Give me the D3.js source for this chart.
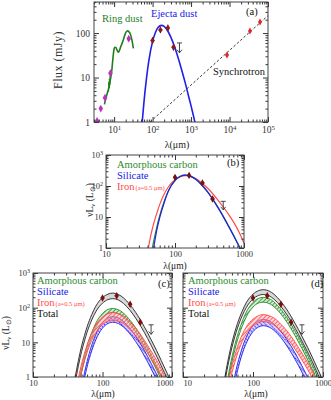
<!DOCTYPE html>
<html><head><meta charset="utf-8">
<script src="https://cdn.jsdelivr.net/npm/d3@7"></script>
<style>body{margin:0;background:#fff} text{font-family:"Liberation Serif","Times New Roman",serif}</style>
</head><body>
<script>
// ================= DATA =================
// Panel (a): ring dust spectrum (mJy)
const ringLam  = [5.6,6.2,7.0,7.5,8.0,8.6,9.2,9.8,10.4,11.2,12.0,12.8,13.6,14.8,16,17.3,18.8,20.4,22.6,24.5,26,28,30,31.7];
const ringFlux = [2.5,3.6,5.2,6.5,9,13,24,40,48,47,41,37,40,49,58,70,88,105,112,106,98,80,60,45];
const ringErrLam = [7.2,7.5,7.8];
const ringErrLo  = [4.8,5.8,6.8];
const ringErrHi  = [8,9.5,11];
const ringPtLam  = [3.6,4.5,5.8,8.0,24];
const ringPtFlux = [1.05,2.0,3.5,12.5,75];
// ejecta dust model (mJy)
const ejectaLam  = [50,55,60,70,80,100,120,140,170,200,250,300,400,500,600,700,850,1000,1200,1500];
const ejectaFlux = [0.44,1.26,2.95,10.2,24,65,106,135,149,141,110,80,41,22,12.7,7.8,4.0,2.3,1.19,0.53];
const firLam  = [100,160,250,350];
const firFlux = [68,118,130,48];
const firLimit = {lam:500, top:60, tip:36};
// synchrotron
const synchLam  = [86,100000];
const synchFlux = [1,247];
const radioLam  = [8600,34000,62000];
const radioFlux = [32,111,177];

// Panels (b)-(d): nu L_nu (Lsun)
const modelLam = [35,40,45,50,55,60,70,80,100,120,140,170,200,250,300,400,500,600,700,850,1000];
const bSilicate = [0.012,0.11,0.3,1.3,4.2,9.5,30,69,151,206,224,204,164,102,62,23.8,10.3,4.9,2.57,1.10,0.54];
const bCarbon   = [0.012,0.1,0.6,2.0,5.2,11,33,68,150,205,225,205,165,104,63,24.5,10.7,5.1,2.7,1.15,0.58];
const bIron     = [0.2,0.76,2.8,7.1,14,25,56,93,158,200,214,200,174,120,83,40,21,12,7.1,3.2,1.41];

const cTotalHi  = [0.17,0.87,3.0,7.8,15.8,28,63,110,195,246,263,240,192,120,73,28,12,5.8,3.0,1.29,0.63];
const cTotalLo  = [0.115,0.6,2.1,5.4,11,19.5,44,76,135,171,182,166,133,83,50,19.3,8.3,4.0,2.1,0.89,0.44];
const cCarbonHi = [0.023,0.15,0.62,1.78,4.0,7.6,19,35.5,68,89,95,87,70,43,26.4,10.1,4.4,2.1,1.10,0.47,0.23];
const cCarbonLo = [0.017,0.114,0.47,1.35,3.0,5.8,14.4,27,52,68,72,66,53,33,20,7.7,3.3,1.6,0.83,0.36,0.17];
const cIronHi   = [0.068,0.26,0.95,2.4,4.8,8.5,19,31.6,53.7,67.6,72.4,67.1,57.5,38.5,25.7,11.5,5.6,3.05,1.70,0.71,0.29];
const cIronLo   = [0.041,0.157,0.57,1.45,2.9,5.1,11.5,19,32.4,40.8,43.7,40.5,34.7,23.2,15.5,6.9,3.4,1.84,1.03,0.43,0.175];
const cSilHi    = [0.003,0.027,0.15,0.5,1.32,2.8,8.3,17,37.2,50.6,55,50.2,40.2,25,15.2,5.9,2.5,1.2,0.63,0.27,0.13];
const cSilLo    = [0.0021,0.019,0.1,0.35,0.91,1.95,5.7,11.7,25.7,35,38,34.7,27.8,17.3,10.5,4.05,1.74,0.83,0.43,0.19,0.09];

const dTotalHi  = [0.21,1.1,3.8,9.8,19.9,35,79,138,245,310,331,302,242,151,92,35,15.1,7.3,3.8,1.62,0.79];
const dTotalLo  = [0.15,0.79,2.8,7.1,14.5,25.7,58,100,178,225,240,219,175,109,66,25.4,10.9,5.3,2.8,1.17,0.58];
const dCarbonHi = [0.048,0.31,1.3,3.7,8.4,15.9,39.7,74,142,186,198,182,146,90,55,21,9.2,4.4,2.3,0.98,0.48];
const dCarbonLo = [0.034,0.23,0.94,2.7,6.0,11.6,28.7,54,104,136,144,132,106,66,40,15.4,6.6,3.2,1.66,0.72,0.34];
const dIronHi   = [0.059,0.23,0.83,2.1,4.2,7.4,16.5,27.5,46.8,58.9,63.1,58.4,50.1,33.5,22.4,10,4.9,2.66,1.48,0.62,0.25];
const dIronLo   = [0.037,0.143,0.52,1.32,2.64,4.67,10.4,17.4,29.5,37.1,39.8,36.9,31.6,21.2,14.1,6.3,3.1,1.68,0.93,0.39,0.16];
const dSilHi    = [0.0025,0.023,0.12,0.42,1.1,2.35,6.9,14.1,30.9,42.1,45.7,41.7,33.4,20.8,12.6,4.9,2.1,1.0,0.52,0.23,0.11];
const dSilLo    = [0.0017,0.015,0.08,0.28,0.72,1.5,4.6,9.3,20.4,27.7,30.2,27.5,22.1,13.8,8.3,3.2,1.38,0.66,0.35,0.15,0.072];

const obsLam = [100,160,250,350];
const obsLv  = [190,220,125,38];
const obsLimit = {lam:500, top:32, tip:17};

// tick labels
const aXLabels = {10:"10^1",100:"10^2",1000:"10^3",10000:"10^4",100000:"10^5"};
const aYLabels = {1:"1",10:"10",100:"100"};
const lvYLabels = {1:"1",10:"10",100:"10^2",1000:"10^3"};
const lamLabels = {10:"10",100:"100",1000:"1000"};

// ================= DRAW =================
const GREEN="#2e8b2e", BLUE="#2020e8", RED="#ff4a4a", RING="#1f7f1f";
const svg = d3.select("body").append("svg").attr("width",331).attr("height",400);
const defs = svg.append("defs");
function hatch(id,color,bg,angle,dash){
  const p=defs.append("pattern").attr("id",id).attr("patternUnits","userSpaceOnUse")
    .attr("width",3).attr("height",3).attr("patternTransform",`rotate(${angle})`);
  p.append("rect").attr("width",3).attr("height",3).attr("fill",bg);
  p.append("line").attr("x1",0.5).attr("y1",0).attr("x2",0.5).attr("y2",3)
    .attr("stroke",color).attr("stroke-width",0.9).attr("stroke-dasharray",dash||null);
}
hatch("hGreen","#3a9a3a","rgba(190,230,190,0.7)",45);
hatch("hRed","#ff5a5a","rgba(255,170,170,0.45)",45);
hatch("hBlue","#2a2aff","rgba(170,150,255,0.45)",-45,"1.6,1");

function logTickVals(dom){
  const [a,b]=dom, maj=[], min=[];
  for(let e=Math.floor(Math.log10(a)); e<=Math.ceil(Math.log10(b)); e++){
    for(let k=1;k<10;k++){
      const v=k*Math.pow(10,e);
      if(v<a*0.999||v>b*1.001) continue;
      (k===1?maj:min).push(v);
    }
  }
  return {maj,min};
}
function supify(sel){
  sel.selectAll(".tick text").each(function(){
    const s=d3.select(this).text();
    if(s.includes("^")){
      const [b,e]=s.split("^");
      const t=d3.select(this).text(null);
      t.append("tspan").text(b);
      t.append("tspan").attr("dy","-0.45em").attr("font-size","0.72em").text(e);
    }
  });
}
let clipN=0;
function makePanel(c){
  const x=d3.scaleLog().domain(c.xd).range([c.x0,c.x1]);
  const y=d3.scaleLog().domain(c.yd).range([c.y1,c.y0]);
  const id="clip"+(clipN++);
  defs.append("clipPath").attr("id",id).append("rect")
    .attr("x",c.x0).attr("y",c.y0).attr("width",c.x1-c.x0).attr("height",c.y1-c.y0);
  const g=svg.append("g");
  const plot=g.append("g").attr("clip-path",`url(#${id})`);
  return {...c,x,y,g,plot};
}
function finishPanel(P){
  const {x,y,g,x0,x1,y0,y1}=P;
  const xt=logTickVals(x.domain()), yt=logTickVals(y.domain());
  const style=s=>s.attr("font-family","Liberation Serif, serif").attr("font-size",P.fs).attr("color","#333")
     .call(a=>a.select(".domain").remove());
  const fx=d=>P.xl?(P.xl[d]||""):"", fy=d=>P.yl?(P.yl[d]||""):"";
  const gb=g.append("g").attr("transform",`translate(0,${y1})`)
    .call(d3.axisBottom(x).tickValues(xt.maj).tickSize(-5).tickSizeOuter(0).tickPadding(P.xpad).tickFormat(fx)).call(style).call(supify);
  g.append("g").attr("transform",`translate(0,${y1})`)
    .call(d3.axisBottom(x).tickValues(xt.min).tickSize(-2.5).tickSizeOuter(0).tickFormat("")).call(style);
  g.append("g").attr("transform",`translate(0,${y0})`)
    .call(d3.axisTop(x).tickValues(xt.maj).tickSize(-5).tickSizeOuter(0).tickFormat("")).call(style);
  g.append("g").attr("transform",`translate(0,${y0})`)
    .call(d3.axisTop(x).tickValues(xt.min).tickSize(-2.5).tickSizeOuter(0).tickFormat("")).call(style);
  g.append("g").attr("transform",`translate(${x0},0)`)
    .call(d3.axisLeft(y).tickValues(yt.maj).tickSize(-5).tickSizeOuter(0).tickPadding(P.ypad).tickFormat(fy)).call(style).call(supify);
  g.append("g").attr("transform",`translate(${x0},0)`)
    .call(d3.axisLeft(y).tickValues(yt.min).tickSize(-2.5).tickSizeOuter(0).tickFormat("")).call(style);
  g.append("g").attr("transform",`translate(${x1},0)`)
    .call(d3.axisRight(y).tickValues(yt.maj).tickSize(-5).tickSizeOuter(0).tickFormat("")).call(style);
  g.append("g").attr("transform",`translate(${x1},0)`)
    .call(d3.axisRight(y).tickValues(yt.min).tickSize(-2.5).tickSizeOuter(0).tickFormat("")).call(style);
  g.append("rect").attr("x",x0).attr("y",y0).attr("width",x1-x0).attr("height",y1-y0)
    .attr("fill","none").attr("stroke","#444").attr("stroke-width",1);
  return gb;
}
const zip=(a,b)=>a.map((v,i)=>[v,b[i]]);
function line(P,xs,ys,color,w,dash){
  P.plot.append("path").datum(zip(xs,ys))
    .attr("d",d3.line().x(d=>P.x(d[0])).y(d=>P.y(d[1])).curve(d3.curveMonotoneX))
    .attr("fill","none").attr("stroke",color).attr("stroke-width",w).attr("stroke-dasharray",dash||null);
}
function band(P,xs,lo,hi,fill,color,w){
  const data=xs.map((v,i)=>[v,lo[i],hi[i]]);
  P.plot.append("path").datum(data)
    .attr("d",d3.area().x(d=>P.x(d[0])).y0(d=>P.y(d[1])).y1(d=>P.y(d[2])).curve(d3.curveMonotoneX))
    .attr("fill",fill);
  line(P,xs,lo,color,w); line(P,xs,hi,color,w);
}
function diamonds(P,xs,ys,color,size){
  P.plot.selectAll(null).data(zip(xs,ys)).join("path")
    .attr("transform",d=>`translate(${P.x(d[0])},${P.y(d[1])})`)
    .attr("d",d3.symbol(d3.symbolDiamond,size)).attr("fill",color);
}
function errPts(P,xs,ys,color){
  const gg=P.plot.append("g").attr("stroke",color).attr("stroke-width",0.9);
  zip(xs,ys).forEach(d=>{
    const cx=P.x(d[0]), cy=P.y(d[1]);
    gg.append("line").attr("x1",cx).attr("x2",cx).attr("y1",P.y(d[1]*1.18)).attr("y2",P.y(d[1]/1.18));
    gg.append("line").attr("x1",cx-2).attr("x2",cx+2).attr("y1",cy).attr("y2",cy);
  });
  diamonds(P,xs,ys,color,16);
}
function limit(P,L,color){
  const cx=P.x(L.lam), t=P.y(L.top), b=P.y(L.tip);
  const gg=P.plot.append("g").attr("stroke",color).attr("stroke-width",0.9).attr("fill","none");
  gg.append("line").attr("x1",cx).attr("x2",cx).attr("y1",t).attr("y2",b);
  gg.append("line").attr("x1",cx-2.5).attr("x2",cx+2.5).attr("y1",t).attr("y2",t);
  gg.append("path").attr("d",`M${cx-2.5},${b-3}L${cx},${b}L${cx+2.5},${b-3}`);
}
function txt(x,y,s,color,size,anchor){
  return svg.append("text").attr("x",x).attr("y",y).attr("fill",color).attr("font-size",size)
    .attr("text-anchor",anchor||"start").text(s);
}
function lvLabel(x,y){
  const t=svg.append("text").attr("transform",`translate(${x},${y}) rotate(-90)`)
    .attr("text-anchor","middle").attr("font-size",9.5).attr("fill","#222");
  t.append("tspan").text("νL");
  t.append("tspan").attr("dy",2).attr("font-size","0.7em").text("ν");
  t.append("tspan").attr("dy",-2).text(" (L");
  t.append("tspan").attr("dy",2).attr("font-size","0.7em").text("⊙");
  t.append("tspan").attr("dy",-2).text(")");
}
function legend(x,yTop,withTotal,dy){
  txt(x,yTop,"Amorphous carbon",GREEN,10.5);
  txt(x,yTop+dy,"Silicate",BLUE,10.5);
  const t=txt(x,yTop+2*dy,"Iron",RED,10.5);
  t.append("tspan").attr("font-size",6.5).attr("dx",1).text("(a=0.5 μm)");
  if(withTotal) txt(x,yTop+3*dy,"Total","#111",10.5);
}

// ---------- Panel (a) ----------
const A=makePanel({x0:94,x1:268,y0:2,y1:122,xd:[3,1e5],yd:[1,500],fs:9.5,xpad:4,ypad:4,xl:aXLabels,yl:aYLabels});
line(A,synchLam,synchFlux,"#222",0.9,"2.5,2");
line(A,ejectaLam,ejectaFlux,BLUE,1.6);
line(A,ringLam,ringFlux,RING,1.6);
ringErrLam.forEach((l,i)=>A.plot.append("line").attr("x1",A.x(l)).attr("x2",A.x(l))
  .attr("y1",A.y(ringErrLo[i])).attr("y2",A.y(ringErrHi[i])).attr("stroke",RING).attr("stroke-width",1));
diamonds(A,ringPtLam,ringPtFlux,"#c030c0",18);
errPts(A,firLam,firFlux,"#8b1a1a");
limit(A,firLimit,"#333");
diamonds(A,radioLam,radioFlux,"#e02a2a",14);
finishPanel(A);
txt(102,22,"Ring dust",RING,10.5);
txt(151,17,"Ejecta dust",BLUE,10.5);
txt(246,15,"(a)","#111",10.5);
txt(213,75,"Synchrotron","#111",10.5);
svg.append("text").attr("transform","translate(62,60) rotate(-90)").attr("text-anchor","middle")
  .attr("font-size",12).attr("letter-spacing",0.5).attr("fill","#333").text("Flux (mJy)");
txt(177,148,"λ(μm)","#222",10,"middle");

// ---------- Panel (b) ----------
const B=makePanel({x0:106,x1:244,y0:155,y1:248,xd:[10,1000],yd:[1,1000],fs:8.5,xpad:3,ypad:3,xl:lamLabels,yl:lvYLabels});
line(B,modelLam,bIron,RED,1.2);
line(B,modelLam,bCarbon,GREEN,1.2);
line(B,modelLam,bSilicate,BLUE,1.2);
errPts(B,obsLam,obsLv,"#7a1010");
limit(B,obsLimit,"#333");
finishPanel(B);
legend(117,168,false,11);
txt(227,166,"(b)","#111",10.5);
lvLabel(93,200);
txt(175,268.5,"λ(μm)","#222",9.5,"middle");

// ---------- Panel (c) ----------
const C=makePanel({x0:33,x1:172,y0:273,y1:377,xd:[10,1000],yd:[1,1000],fs:8.5,xpad:3,ypad:3,xl:lamLabels,yl:lvYLabels});
band(C,modelLam,cTotalLo,cTotalHi,"#d8d8d8","#222",0.9);
band(C,modelLam,cCarbonLo,cCarbonHi,"url(#hGreen)",GREEN,0.9);
band(C,modelLam,cSilLo,cSilHi,"url(#hBlue)",BLUE,0.9);
band(C,modelLam,cIronLo,cIronHi,"url(#hRed)",RED,0.9);
errPts(C,obsLam,obsLv,"#7a1010");
limit(C,obsLimit,"#333");
const gbC=finishPanel(C);
gbC.selectAll(".tick text").filter(d=>d===1000).attr("text-anchor","end").attr("x",1);
legend(37,284,true,11);
txt(158,287,"(c)","#111",10.5);
lvLabel(9,333);
txt(103,397,"λ(μm)","#222",9.5,"middle");

// ---------- Panel (d) ----------
const D=makePanel({x0:183,x1:323,y0:273,y1:377,xd:[10,1000],yd:[1,1000],fs:8.5,xpad:3,ypad:3,xl:lamLabels,yl:null});
band(D,modelLam,dTotalLo,dTotalHi,"#d8d8d8","#222",0.9);
band(D,modelLam,dCarbonLo,dCarbonHi,"url(#hGreen)",GREEN,0.9);
band(D,modelLam,dSilLo,dSilHi,"url(#hBlue)",BLUE,0.9);
band(D,modelLam,dIronLo,dIronHi,"url(#hRed)",RED,0.9);
errPts(D,obsLam,obsLv,"#7a1010");
limit(D,obsLimit,"#333");
const gbD=finishPanel(D);
gbD.selectAll(".tick text").filter(d=>d===10).attr("text-anchor","start").attr("x",0);
legend(188,284,true,11);
txt(311,287,"(d)","#111",10.5);
txt(256,397,"λ(μm)","#222",9.5,"middle");
</script>
</body></html>
